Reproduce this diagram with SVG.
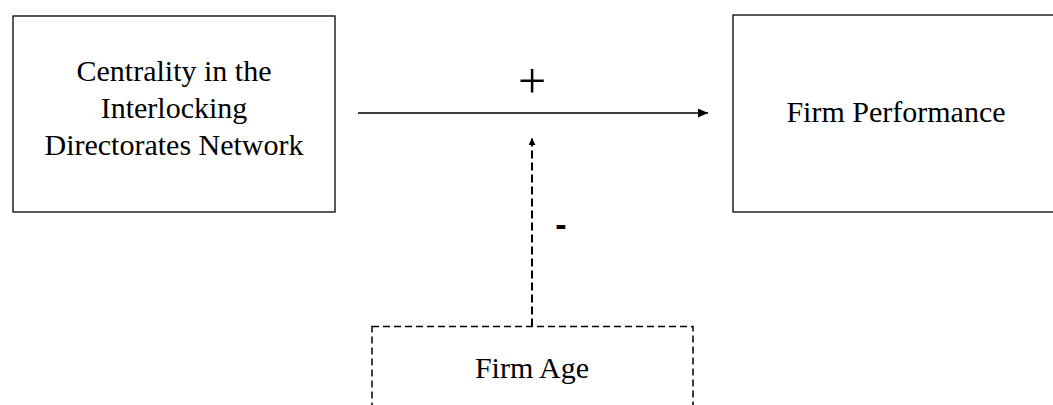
<svg xmlns="http://www.w3.org/2000/svg" width="1053" height="405" viewBox="0 0 1053 405">
<style>
.box{fill:#fff;stroke:#000;stroke-width:1.3}
.dbox{fill:#fff;stroke:#000;stroke-width:1.5;stroke-dasharray:7 4}
.t{font-family:"Liberation Serif","Times New Roman",serif;font-size:30px;fill:#000;text-anchor:middle}
.s{font-family:"Liberation Sans",Arial,sans-serif;fill:#000;text-anchor:middle}
</style>
<defs>
<marker id="ah" markerWidth="10" markerHeight="9" refX="10" refY="4.5" orient="auto" markerUnits="userSpaceOnUse">
<path d="M0,0 L10,4.5 L0,9 Z" fill="#000"/>
</marker>
<marker id="ah2" markerWidth="7" markerHeight="7" refX="7" refY="3.5" orient="auto" markerUnits="userSpaceOnUse">
<path d="M0,0 L7,3.5 L0,7 Z" fill="#000"/>
</marker>
</defs>
<g id="node-centrality">
<rect class="box" x="13" y="16" width="322" height="196"/>
<text class="t" x="174" y="81">Centrality in the</text>
<text class="t" x="174" y="118">Interlocking</text>
<text class="t" x="174" y="155">Directorates Network</text>
</g>
<g id="node-performance">
<rect class="box" x="733" y="15" width="322" height="197"/>
<text class="t" x="896" y="122">Firm Performance</text>
</g>
<g id="node-age">
<rect class="dbox" x="372" y="326.5" width="321" height="100"/>
<text class="t" x="532" y="378">Firm Age</text>
</g>
<g id="connectors">
<line x1="358" y1="113" x2="708" y2="113" stroke="#000" stroke-width="1.3" marker-end="url(#ah)"/>
<line x1="532" y1="326.5" x2="532" y2="138" stroke="#000" stroke-width="2" stroke-dasharray="8 4" marker-end="url(#ah2)"/>
<text x="532" y="98" font-family="Liberation Serif,serif" font-size="50" text-anchor="middle" fill="#000">+</text>
<text class="s" x="561" y="236" font-size="34" font-weight="bold">-</text>
</g>
</svg>
